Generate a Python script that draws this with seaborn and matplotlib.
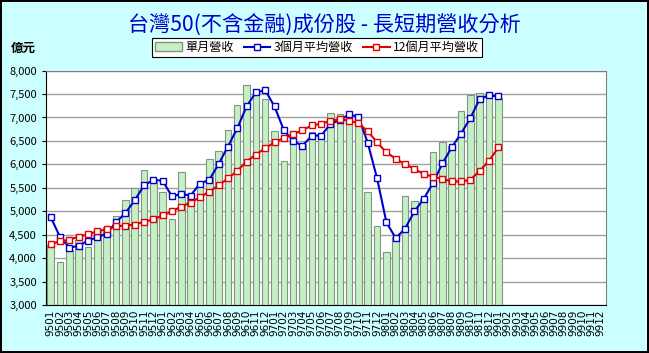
import numpy as np
import pandas as pd
import matplotlib
matplotlib.use('Agg')
import matplotlib.pyplot as plt
import matplotlib.ticker as mticker
from matplotlib.patches import Patch
from matplotlib.lines import Line2D
import seaborn as sns

# months 9501 .. 9912
months = [f"{y}{m:02d}" for y in range(95, 100) for m in range(1, 13)]

# 單月營收 (億元), 9501 .. 9901
monthly = [4290, 3920, 4180, 4390, 4230, 4620, 4670, 4900, 5240, 5490, 5880, 5630,
           5410, 4840, 5830, 5350, 5620, 6110, 6290, 6730, 7265, 7690, 7520, 7390,
           6710, 6070, 6700, 6430, 6700, 6630, 7090, 7070, 6990, 6850, 5410, 4680,
           4125, 4450, 5320, 5220, 5270, 6260, 6480, 6400, 7140, 7490, 7520, 7490,
           7415]

# 3個月平均營收
avg3 = [4870, 4450, 4225, 4260, 4375, 4445, 4525, 4765, 4960, 5230, 5550, 5670,
        5650, 5315, 5370, 5335, 5590, 5670, 6005, 6380, 6765, 7235, 7535, 7580,
        7235, 6730, 6500, 6395, 6615, 6615, 6860, 6945, 7065, 7015, 6460, 5700,
        4765, 4425, 4630, 4995, 5265, 5600, 6020, 6360, 6655, 6985, 7395, 7470,
        7450]

# 12個月平均營收
avg12 = [4305, 4355, 4395, 4455, 4505, 4575, 4615, 4675, 4695, 4715, 4775, 4825,
         4910, 4995, 5100, 5185, 5295, 5420, 5550, 5700, 5860, 6060, 6210, 6340,
         6475, 6560, 6640, 6730, 6830, 6865, 6930, 6960, 6935, 6875, 6705, 6470,
         6255, 6120, 6000, 5905, 5790, 5740, 5690, 5635, 5635, 5670, 5860, 6075,
         6360]

df = pd.DataFrame({'month': months[:len(monthly)], 'value': monthly})

plt.rcParams['font.family'] = ['Noto Sans CJK TC', 'DejaVu Sans']

fig = plt.figure(figsize=(6.49, 3.53), dpi=100, facecolor='#CCFFFF',
                 edgecolor='black', linewidth=1.5)
ax = fig.add_axes([0.071, 0.136, 0.862, 0.664])
ax.set_facecolor('white')

sns.barplot(data=df, x='month', y='value', order=months, color='#C6EFC6',
            saturation=1, width=0.7, edgecolor='#7F967F', linewidth=0.8, ax=ax)

x = np.arange(len(avg3))
sns.lineplot(x=x, y=avg3, color='#0000CC', lw=1.5, marker='s', markersize=5,
             markerfacecolor='white', markeredgecolor='#0000CC',
             markeredgewidth=1, ax=ax)
sns.lineplot(x=x, y=avg12, color='#E00000', lw=1.5, marker='s', markersize=5,
             markerfacecolor='white', markeredgecolor='#E00000',
             markeredgewidth=1, ax=ax)

ax.set_ylim(3000, 8000)
ax.set_xlim(-0.5, len(months) - 0.5)
ax.yaxis.set_major_locator(mticker.MultipleLocator(500))
ax.yaxis.set_major_formatter(mticker.FuncFormatter(lambda v, p: f"{int(v):,}"))
ax.grid(axis='y', color='#A0A0A0', lw=1)
ax.set_axisbelow(True)
ax.set_xlabel('')
ax.set_ylabel('')
ax.tick_params(axis='x', rotation=90, labelsize=7.5, length=0, pad=3)
ax.tick_params(axis='y', labelsize=8, length=3)
for lbl in ax.get_xticklabels():
    lbl.set_family('DejaVu Sans')
for s in ['top', 'right']:
    ax.spines[s].set_color('#808080')
for s in ['left', 'bottom']:
    ax.spines[s].set_color('black')

fig.text(0.5, 0.928, '台灣50(不含金融)成份股 - 長短期營收分析', ha='center', va='center',
         fontsize=15.2, color='#0000CC')
fig.text(0.017, 0.862, '億元', ha='left', va='center', fontsize=9, fontweight='bold')

handles = [Patch(facecolor='#C6EFC6', edgecolor='#7F967F'),
           Line2D([], [], color='#0000CC', lw=1.5, marker='s', markersize=4,
                  markerfacecolor='white'),
           Line2D([], [], color='#E00000', lw=1.5, marker='s', markersize=4,
                  markerfacecolor='white')]
leg = fig.legend(handles, ['單月營收', '3個月平均營收', '12個月平均營收'], ncol=3,
                 loc='center', bbox_to_anchor=(0.489, 0.866), fontsize=8.7,
                 frameon=True, fancybox=False, edgecolor='black', framealpha=1,
                 borderpad=0.25, handlelength=2.2, handletextpad=0.3,
                 columnspacing=0.8)
leg.get_frame().set_linewidth(0.8)

fig.savefig('out.png', dpi=100, facecolor=fig.get_facecolor(),
            edgecolor=fig.get_edgecolor())
